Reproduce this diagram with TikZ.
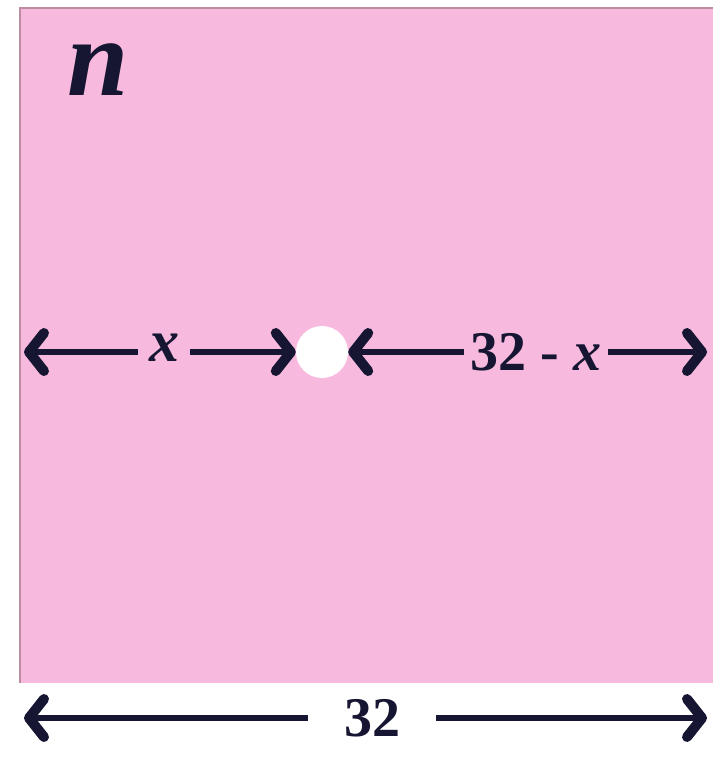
\documentclass[tikz,border=0pt]{standalone}
\usepackage{fontspec}
\setmainfont{Liberation Serif}
\usetikzlibrary{arrows.meta}
\definecolor{sheet}{RGB}{247,186,222}
\definecolor{edge}{RGB}{190,140,160}
\definecolor{ink}{RGB}{22,22,50}
\tikzset{
  dim/.style={draw=ink,line width=6.5pt,-{Straight Barb[length=15pt,width=38pt,line width=10pt,round]}},
  lab/.style={text=ink,font=\fontsize{56}{56}\selectfont\bfseries,inner sep=0pt},
}
\begin{document}
\begin{tikzpicture}[x=1pt,y=-1pt]
\useasboundingbox (0,0) rectangle (713,758);
\fill[white] (0,0) rectangle (713,758);
\fill[sheet] (20,8) rectangle (713,683);
\draw[edge,line width=1.5pt] (20,683) -- (20,8) -- (713,8);
\node[text=ink,font=\fontsize{110}{110}\selectfont\bfseries\itshape,inner sep=0pt] (n) at (98,70) {n};
\node[circle,fill=white,minimum size=52pt,inner sep=0pt] (hole) at (322,352) {};
\coordinate (L) at (24,352);
\coordinate (R) at (707,352);
\node[lab,font=\fontsize{60}{60}\selectfont\bfseries\itshape,inner xsep=11pt] (xl) at (164,348) {x};
\node[lab,inner xsep=6pt] (xr) at (536,352) {32 - \textit{x}};
\draw[dim] (xl.west |- L) -- (L);
\draw[dim] (xl.east |- L) -- (hole.west);
\draw[dim] (xr.west |- L) -- (hole.east);
\draw[dim] (xr.east |- L) -- (R);
\coordinate (BL) at (24,718);
\coordinate (BR) at (707,718);
\node[lab,inner xsep=36pt] (b) at (372,718) {32};
\draw[dim] (b.west) -- (BL);
\draw[dim] (b.east) -- (BR);
\end{tikzpicture}
\end{document}
